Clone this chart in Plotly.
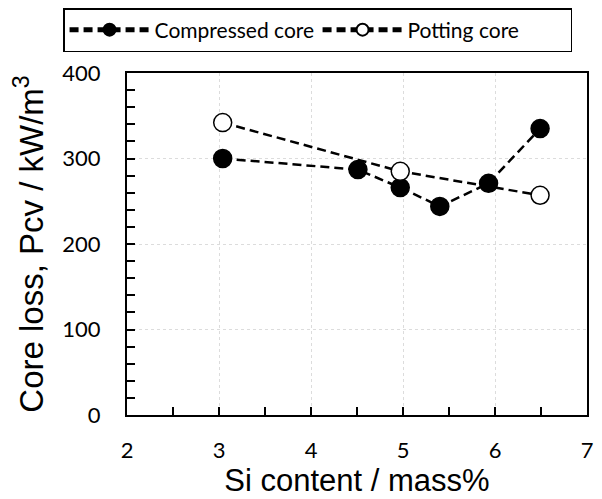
import plotly.graph_objects as go

compressed_si = [3.04, 4.51, 4.97, 5.40, 5.93, 6.49]
compressed_pcv = [300, 287, 266, 244, 271, 335]
potting_si = [3.04, 4.97, 6.49]
potting_pcv = [342, 285, 257]

x_ticks = [2, 3, 4, 5, 6, 7]
y_ticks = [0, 100, 200, 300, 400]

fig = go.Figure()
fig.add_trace(go.Scatter(
    x=compressed_si, y=compressed_pcv, name="Compressed core",
    mode="lines+markers",
    line=dict(color="black", width=2.5, dash="9px,5px"),
    marker=dict(symbol="circle", size=18, color="black", line=dict(color="black", width=1.5)),
))
fig.add_trace(go.Scatter(
    x=potting_si, y=potting_pcv, name="Potting core",
    mode="lines+markers",
    line=dict(color="black", width=2.5, dash="9px,5px"),
    marker=dict(symbol="circle", size=18, color="white", line=dict(color="black", width=1.5)),
))

# page body has an 8px margin, so the figure is sized/offset to compensate
fig.update_layout(
    width=594, height=491,
    margin=dict(l=119, r=15, t=65, b=84, autoexpand=False),
    plot_bgcolor="white", paper_bgcolor="white",
    showlegend=True,
    legend=dict(
        orientation="h", x=-0.139, y=1.19, xanchor="left", yanchor="top",
        xref="paper", yref="paper",
        bordercolor="black", borderwidth=1.5,
        font=dict(family="Lato, sans-serif", size=21, color="black"),
        itemsizing="constant", entrywidth=158, itemwidth=80,
    ),
    xaxis=dict(
        range=[2, 7], tickvals=x_ticks, ticktext=[str(v) for v in x_ticks],
        ticks="inside", ticklen=8, tickwidth=1.5, tickcolor="black",
        minor=dict(dtick=0.5, ticks="inside", ticklen=8, tickwidth=1.5, tickcolor="black", showgrid=False),
        showline=True, linecolor="black", linewidth=2, mirror=True,
        showgrid=True, gridcolor="#dcdcdc", griddash="dot", gridwidth=1,
        zeroline=False, automargin=False,
        tickfont=dict(family="Lato, sans-serif", size=22, color="black"),
        ticklabelstandoff=15,
        title=dict(text="Si content / mass%", font=dict(family="Liberation Sans, Arial", size=31, color="black"), standoff=2),
    ),
    yaxis=dict(
        range=[0, 400], tickvals=y_ticks, ticktext=[str(v) for v in y_ticks],
        ticks="inside", ticklen=8, tickwidth=1.5, tickcolor="black",
        minor=dict(dtick=20, ticks="inside", ticklen=8, tickwidth=1.5, tickcolor="black", showgrid=False),
        showline=True, linecolor="black", linewidth=2, mirror=True,
        showgrid=True, gridcolor="#dcdcdc", griddash="dot", gridwidth=1,
        zeroline=False, automargin=False,
        tickfont=dict(family="Lato, sans-serif", size=22, color="black"),
        ticklabelstandoff=20,
        title=dict(text="Core loss, Pcv / kW/m<sup>3</sup>", font=dict(family="Liberation Sans, Arial", size=33, color="black"), standoff=14),
    ),
)

fig.write_html("out.html")
